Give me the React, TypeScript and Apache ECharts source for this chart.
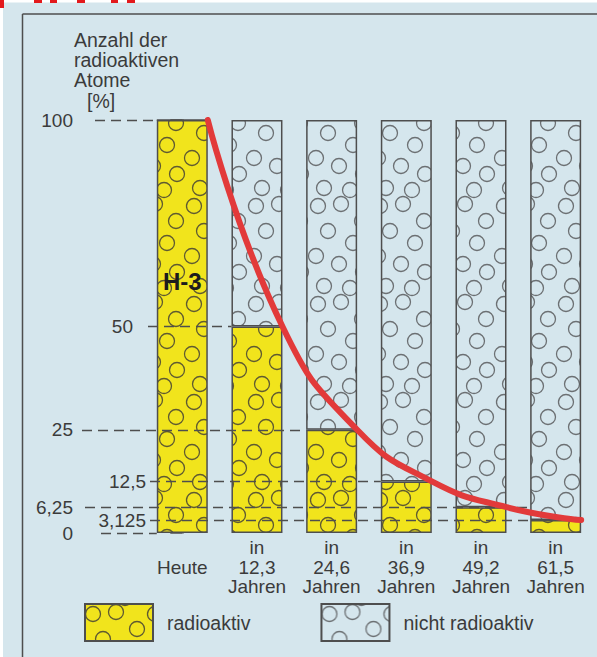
import React, { useEffect, useRef } from 'react';
import * as echarts from 'echarts';

// ---------- data ----------
const timeYears = [0, 12.3, 24.6, 36.9, 49.2, 61.5];
const radioactivePct = [100, 50, 25, 12.5, 6.25, 3.125];
const outerTickValues = [0, 6.25, 25, 100];
const innerTickValues = [3.125, 12.5, 50];
const seriesNames = ['radioaktiv', 'nicht radioaktiv'];
const yTitleLines = ['Anzahl der', 'radioaktiven', 'Atome', '[%]'];
const isotopeLabel = 'H-3';

// ---------- layout ----------
const W = 597;
const H = 657;
const GRID_LEFT = 18;
const GRID_RIGHT = 4;
const GRID_TOP = 120;
const GRID_BOTTOM = 124;
const X_MIN = -2.2;
const X_MAX = 5.5;
const PX_PER_UNIT = (W - GRID_LEFT - GRID_RIGHT) / (X_MAX - X_MIN);
const BAR_W = 51;
const HALF = BAR_W / 2 / PX_PER_UNIT;
const pxToX = (px: number) => X_MIN + (px - GRID_LEFT) / PX_PER_UNIT;
const AXIS_PX = 95;

const FONT = '"Liberation Sans", Arial, Helvetica, sans-serif';
const TEXT = '#3b3b3b';
const LINE = '#4e4e4e';
const BG = '#d5e6ed';
const YELLOW = '#f1e41c';

// guide lines: start (px on page) and the bar whose left edge they run to
const guideLayout: { v: number; fromPx: number; toBar: number }[] = [
  { v: 100, fromPx: AXIS_PX, toBar: 0 },
  { v: 50, fromPx: 148, toBar: 1 },
  { v: 25, fromPx: 82, toBar: 2 },
  { v: 12.5, fromPx: 150, toBar: 3 },
  { v: 6.25, fromPx: 85, toBar: 5 },
  { v: 3.125, fromPx: 150, toBar: 5 },
  { v: 0, fromPx: 101, toBar: 0 },
];

// decorative circle texture
const TILE_W = 62;
const TILE_H = 98;
const texture = [
  [8, 10], [31, 8], [52, 25], [18, 35], [43, 47],
  [6, 60], [29, 68], [53, 76], [14, 90], [40, 92],
];
function tileUrl(bg: string, stroke: string) {
  let c = '';
  for (const [x, y] of texture) {
    for (const dx of [-TILE_W, 0, TILE_W]) {
      for (const dy of [-TILE_H, 0, TILE_H]) {
        c += `<circle cx="${x + dx}" cy="${y + dy}" r="7.5" fill="none" stroke="${stroke}" stroke-width="1.3"/>`;
      }
    }
  }
  const svg = `<svg xmlns="http://www.w3.org/2000/svg" width="${TILE_W}" height="${TILE_H}"><rect width="${TILE_W}" height="${TILE_H}" fill="${bg}"/>${c}</svg>`;
  return 'data:image/svg+xml;charset=utf-8,' + encodeURIComponent(svg);
}

const fmtNum = (v: number) => String(v).replace('.', ',');

function buildOption() {
  const yellowPattern: any = { image: tileUrl(YELLOW, '#5f5a30'), repeat: 'repeat', imageWidth: TILE_W, imageHeight: TILE_H };
  const bluePattern: any = { image: tileUrl(BG, '#6c7073'), repeat: 'repeat', imageWidth: TILE_W, imageHeight: TILE_H };

  const barBorder = { borderColor: LINE, borderWidth: 1.5 };

  // data dims ordered [value, position] so the stack is on the value dimension
  const radioData: any[] = radioactivePct.map((v, i) =>
    i === 0
      ? {
          value: [v, i],
          label: {
            show: true,
            formatter: isotopeLabel,
            position: ['50%', '39%'],
            align: 'center',
            verticalAlign: 'middle',
            fontFamily: FONT,
            fontWeight: 'bold',
            fontSize: 24,
            color: '#1d1d1d',
          },
        }
      : [v, i]
  );
  const restData = radioactivePct.map((v, i) => [100 - v, i]);
  const curveData = radioactivePct.map((v, i) => [i + HALF, v]);

  const guides = guideLayout.map((g) => [
    { coord: [pxToX(g.fromPx), g.v] },
    { coord: [g.toBar - HALF, g.v] },
  ]);

  const labelStyle = { fontFamily: FONT, fontSize: 19, color: TEXT };

  const title = yTitleLines
    .map((l, i) => (i === yTitleLines.length - 1 ? `{b|${l}}` : `{a|${l}}`))
    .join('\n');

  return {
    animation: false,
    backgroundColor: BG,
    textStyle: { fontFamily: FONT },
    title: {
      left: 69,
      top: 25,
      text: title,
      textStyle: {
        fontWeight: 'normal',
        rich: {
          a: { fontFamily: FONT, fontWeight: 'normal', fontSize: 19.5, lineHeight: 20, color: TEXT },
          b: { fontFamily: FONT, fontWeight: 'normal', fontSize: 19.5, lineHeight: 22, color: TEXT, padding: [0, 0, 0, 13] },
        },
      },
    },
    legend: {
      data: seriesNames,
      left: 79,
      top: 598,
      icon: 'rect',
      itemWidth: 68,
      itemHeight: 37,
      itemGap: 70,
      selectedMode: false,
      textStyle: { fontFamily: FONT, fontSize: 19.5, color: TEXT, padding: [0, 0, 0, 9] },
    },
    grid: {
      left: GRID_LEFT,
      right: GRID_RIGHT,
      top: GRID_TOP,
      bottom: GRID_BOTTOM,
      containLabel: false,
      outerBoundsMode: 'none',
    },
    xAxis: {
      type: 'value',
      min: X_MIN,
      max: X_MAX,
      axisLine: { show: false },
      axisTick: { show: false },
      splitLine: { show: false },
      axisLabel: {
        customValues: timeYears.map((_, i) => i),
        margin: 5,
        ...labelStyle,
        fontSize: 19,
        lineHeight: 19.5,
        formatter: (v: number) => {
          const y = timeYears[Math.round(v)];
          return y === 0 ? '\nHeute' : `in\n${fmtNum(y)}\nJahren`;
        },
      },
    },
    yAxis: [
      {
        type: 'value',
        min: 0,
        max: 100,
        position: 'left',
        offset: -(AXIS_PX - GRID_LEFT),
        splitLine: { show: false },
        axisLine: { show: true, lineStyle: { color: LINE, width: 1.5 } },
        axisTick: { show: true, customValues: [0, 100], length: 12, lineStyle: { color: LINE, width: 1.5 } },
        axisLabel: { customValues: outerTickValues, margin: 22, ...labelStyle, formatter: fmtNum },
      },
      {
        type: 'value',
        min: 0,
        max: 100,
        position: 'left',
        offset: -(150 - GRID_LEFT),
        splitLine: { show: false },
        axisLine: { show: false },
        axisTick: { show: false },
        axisLabel: {
          customValues: innerTickValues,
          margin: 4,
          ...labelStyle,
          formatter: (v: number) => (v === 50 ? `{p|${fmtNum(v)}}` : fmtNum(v)),
          rich: { p: { ...labelStyle, padding: [0, 13, 0, 0] } },
        },
      },
    ],
    series: [
      {
        name: seriesNames[0],
        type: 'bar',
        stack: 'col',
        barWidth: BAR_W,
        encode: { x: 1, y: 0 },
        data: radioData,
        itemStyle: { color: yellowPattern, ...barBorder },
        z: 2,
      },
      {
        name: seriesNames[1],
        type: 'bar',
        stack: 'col',
        barWidth: BAR_W,
        encode: { x: 1, y: 0 },
        data: restData,
        itemStyle: { color: bluePattern, ...barBorder },
        z: 2,
      },
      {
        name: 'Zerfallskurve',
        type: 'line',
        data: curveData,
        smooth: 0.5,
        showSymbol: false,
        symbol: 'none',
        lineStyle: { color: '#e23a3a', width: 6, cap: 'round' },
        z: 10,
        markLine: {
          silent: true,
          symbol: 'none',
          z: 5,
          label: { show: false },
          lineStyle: { color: LINE, width: 1.3, type: [10, 6] },
          data: guides,
        },
      },
    ],
    graphic: [
      { type: 'rect', shape: { x: 0, y: 0, width: 3, height: H }, style: { fill: '#ffffff' }, silent: true },
      { type: 'rect', shape: { x: 0, y: 0, width: W, height: 2.5 }, style: { fill: '#ffffff' }, silent: true },
      { type: 'rect', shape: { x: 0, y: 0, width: 4, height: 8 }, style: { fill: '#e3191c' }, silent: true },
      { type: 'rect', shape: { x: 34, y: 0, width: 8, height: 3 }, style: { fill: '#e3191c' }, silent: true },
      { type: 'rect', shape: { x: 50, y: 0, width: 7, height: 3 }, style: { fill: '#e3191c' }, silent: true },
      { type: 'rect', shape: { x: 77, y: 0, width: 8, height: 3 }, style: { fill: '#e3191c' }, silent: true },
      { type: 'rect', shape: { x: 111, y: 0, width: 7, height: 3 }, style: { fill: '#e3191c' }, silent: true },
      { type: 'rect', shape: { x: 127, y: 0, width: 8, height: 3 }, style: { fill: '#e3191c' }, silent: true },
      { type: 'line', shape: { x1: 22.5, y1: 14, x2: W, y2: 14 }, style: { stroke: LINE, lineWidth: 1.5 }, silent: true },
      { type: 'line', shape: { x1: 22.5, y1: 14, x2: 22.5, y2: H }, style: { stroke: LINE, lineWidth: 1.5 }, silent: true },
    ],
  };
}

export default function App() {
  const ref = useRef<HTMLDivElement>(null);
  useEffect(() => {
    if (!ref.current) return;
    const chart = echarts.init(ref.current, undefined, { renderer: 'svg', width: W, height: H });
    chart.setOption(buildOption() as any);
    return () => chart.dispose();
  }, []);
  return (
    <div
      ref={ref}
      style={{ position: 'fixed', left: 0, top: 0, width: W, height: H, background: BG }}
    />
  );
}
